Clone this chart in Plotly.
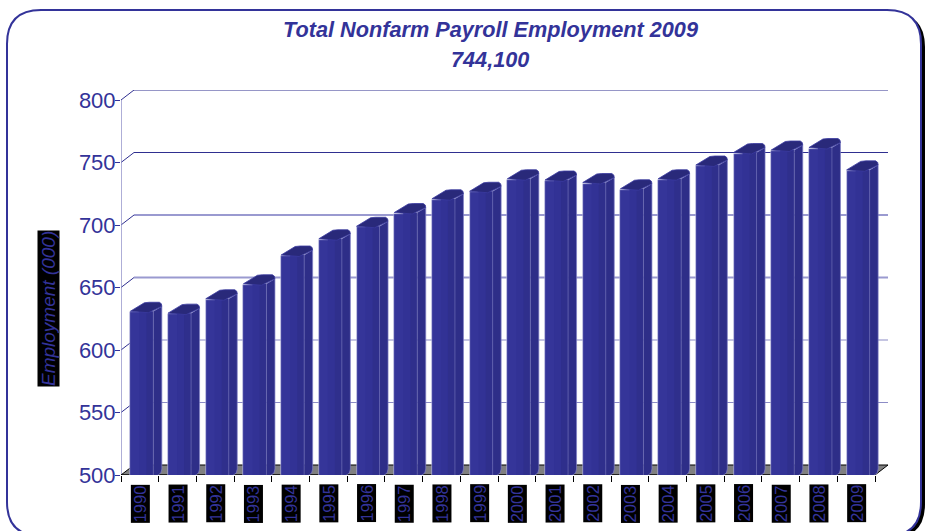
import plotly.graph_objects as go

years = ["1990","1991","1992","1993","1994","1995","1996","1997","1998","1999",
         "2000","2001","2002","2003","2004","2005","2006","2007","2008","2009"]
employment = [631, 629.5, 641, 653, 676, 689, 699, 710, 721, 727,
              737, 736, 734, 729, 737, 748, 758, 760, 762, 744.1]
y_ticks = [500, 550, 600, 650, 700, 750, 800]
title_lines = ["Total Nonfarm Payroll Employment 2009", "744,100"]
y_title = "Employment (000)"

W, H = 931, 531
LEFT, RIGHT, TOP, BOTTOM = 121, 875, 100, 475
DX_PX, DY_PX = 13, 10
BLUE = "#333399"
px_x = (RIGHT - LEFT) / len(years)
px_y = (BOTTOM - TOP) / 300
dx = DX_PX / px_x
dy = DY_PX / px_y
xr = [0, len(years) + dx]
yr = [500, 800 + dy]

def X(px): return px / px_x
def Y(px): return px / px_y
def fx(px): return px / W
def fy(px): return 1 - px / H

fig = go.Figure()

shapes = []
GRID = {800: ("#2f2f90", 1.2), 750: ("#2f2f90", 1.2), 700: ("#9a9ad0", 1.8),
        650: ("#9a9ad0", 1.8), 600: ("#8c8cc6", 1.2), 550: ("#8c8cc6", 1.2)}
for v in y_ticks[1:]:
    c, w = GRID[v]
    shapes.append(dict(type="line", xref="x", yref="y", x0=0, y0=v, x1=dx, y1=v + dy,
                       line=dict(color="#2f2f90", width=1), layer="below"))
    shapes.append(dict(type="line", xref="x", yref="y", x0=dx, y0=v + dy, x1=xr[1], y1=v + dy,
                       line=dict(color=c, width=w), layer="below"))
shapes.append(dict(type="path", xref="x", yref="y", layer="below",
                   path=f"M0,500 L{dx},{500+dy} L{xr[1]},{500+dy} L{len(years)},500 Z",
                   fillcolor="#808080", line=dict(width=0)))
shapes.append(dict(type="line", xref="x", yref="y", x0=0, y0=500, x1=0, y1=800,
                   line=dict(color="#8c8cc6", width=1.4), layer="below"))
shapes.append(dict(type="line", xref="x", yref="y", x0=0, y0=500, x1=dx, y1=500 + dy,
                   line=dict(color="#000000", width=1), layer="below"))
shapes.append(dict(type="line", xref="x", yref="y", x0=len(years), y0=500, x1=xr[1], y1=500 + dy,
                   line=dict(color="#000000", width=1), layer="below"))
shapes.append(dict(type="line", xref="x", yref="y", x0=0, y0=500, x1=len(years), y1=500,
                   line=dict(color="#000000", width=1.4), layer="below"))
shapes.append(dict(type="line", xref="x", yref="y", x0=dx, y0=500 + dy, x1=xr[1], y1=500 + dy,
                   line=dict(color="#000000", width=1.2), layer="below"))

def frame(l, t, r, b, rad):
    return (f"M{fx(l+rad)},{fy(t)} L{fx(r-rad)},{fy(t)} "
            f"Q{fx(r)},{fy(t)} {fx(r)},{fy(t+rad)} L{fx(r)},{fy(b-rad)} "
            f"Q{fx(r)},{fy(b)} {fx(r-rad)},{fy(b)} L{fx(l+rad)},{fy(b)} "
            f"Q{fx(l)},{fy(b)} {fx(l)},{fy(b-rad)} L{fx(l)},{fy(t+rad)} "
            f"Q{fx(l)},{fy(t)} {fx(l+rad)},{fy(t)} Z")
shapes.insert(0, dict(type="path", xref="paper", yref="paper", path=frame(10, 13, 925, 538, 34),
                      fillcolor="#000000", line=dict(width=0), layer="below"))
shapes.insert(1, dict(type="path", xref="paper", yref="paper", path=frame(7, 10, 921, 536, 34),
                      fillcolor="#ffffff", line=dict(color=BLUE, width=2), layer="below"))

FRONT_W = 23
TOTAL_W = 31.5
LEFT_PAD = 9.5
lefts = [i + 0.5 - X(LEFT_PAD) for i in range(len(years))]
centers = [l + X(FRONT_W) / 2 for l in lefts]
fig.add_trace(go.Bar(x=centers, y=[v - 500 for v in employment], base=500 - Y(1), width=X(FRONT_W),
                     marker=dict(color="#353599", line=dict(color="#c8c8e6", width=0.6)),
                     hoverinfo="skip", showlegend=False))

CAP_U = [0, 14, 19, 29, 31, 31.5, 18, 8, 0]
CAP_W = [0, 8.5, 9, 9, 7.5, 5, -1.5, -1, 0]

for x0, v in zip(lefts, employment):
    x1 = x0 + X(FRONT_W)
    for a, b, col in [(9, 16, "#323295"), (16, FRONT_W, "#2f2f8c")]:
        fig.add_trace(go.Scatter(
            x=[x0 + X(a), x0 + X(b), x0 + X(b), x0 + X(a)],
            y=[500 - Y(1), 500 - Y(1), v, v], mode="lines", fill="toself",
            fillcolor=col, line=dict(width=0), hoverinfo="skip", showlegend=False))
    fig.add_trace(go.Scatter(
        x=[x1, x0 + X(27), x0 + X(TOTAL_W - 1), x0 + X(TOTAL_W), x0 + X(TOTAL_W), x1],
        y=[500 - Y(1), 500 - Y(0.5), 500 + Y(2), 500 + Y(6), v + Y(5), v],
        mode="lines", fill="toself", fillcolor="#2e2e88",
        line=dict(color="#8080c4", width=0.7), hoverinfo="skip", showlegend=False))
    fig.add_trace(go.Scatter(
        x=[x1, x1], y=[500 - Y(1), v], mode="lines",
        line=dict(color="#6a6ab4", width=0.7), hoverinfo="skip", showlegend=False))
    fig.add_trace(go.Scatter(
        x=[x0 + X(u) for u in CAP_U], y=[v + Y(w) for w in CAP_W],
        mode="lines", fill="toself", fillcolor="#29297a",
        line=dict(color="#3a3aa0", width=0.8), hoverinfo="skip", showlegend=False))

annotations = []
for i, y in enumerate(years):
    annotations.append(dict(x=i + 0.5, xref="x", y=fy(503.5), yref="paper", yanchor="middle",
                            text=y, textangle=-90, showarrow=False, bgcolor="#000000", borderpad=0,
                            font=dict(family="Liberation Sans", size=16.5, color=BLUE)))
annotations.append(dict(x=fx(48), xref="paper", xanchor="center", y=fy(309), yref="paper",
                        yanchor="middle", text=f"<i>{y_title}</i>", textangle=-90,
                        showarrow=False, bgcolor="#000000", borderpad=0,
                        font=dict(family="Liberation Sans", size=19, color=BLUE)))
annotations.append(dict(x=fx(490), xref="paper", y=fy(29), yref="paper", yanchor="middle",
                        text=f"<b><i>{title_lines[0]}</i></b>", showarrow=False,
                        font=dict(family="Liberation Sans", size=21.7, color=BLUE)))
annotations.append(dict(x=fx(490), xref="paper", y=fy(60), yref="paper", yanchor="middle",
                        text=f"<b><i>{title_lines[1]}</i></b>", showarrow=False,
                        font=dict(family="Liberation Sans", size=21.7, color=BLUE)))

fig.update_layout(
    width=W, height=H, margin=dict(l=0, r=0, t=0, b=0, autoexpand=False),
    paper_bgcolor="#ffffff", plot_bgcolor="rgba(0,0,0,0)",
    showlegend=False, shapes=shapes, annotations=annotations, bargap=0,
    xaxis=dict(domain=[fx(LEFT), fx(RIGHT + DX_PX)], range=xr, showgrid=False, zeroline=False,
               tickvals=list(range(len(years) + 1)), ticks="outside", ticklen=6, tickwidth=1,
               tickcolor="#000000", showticklabels=False, showline=False),
    yaxis=dict(domain=[fy(BOTTOM), fy(TOP - DY_PX)], range=yr, showgrid=False, zeroline=False,
               tickvals=y_ticks, ticks="outside", ticklen=5, tickwidth=1, tickcolor=BLUE,
               showline=False, ticklabelstandoff=-5,
               tickfont=dict(family="Liberation Sans", size=22, color=BLUE)),
)
fig.write_html("out.html", config=dict(displayModeBar=False),
               default_width=W, default_height=H,
               post_script="document.body.style.margin='0';document.body.style.overflow='hidden';")
